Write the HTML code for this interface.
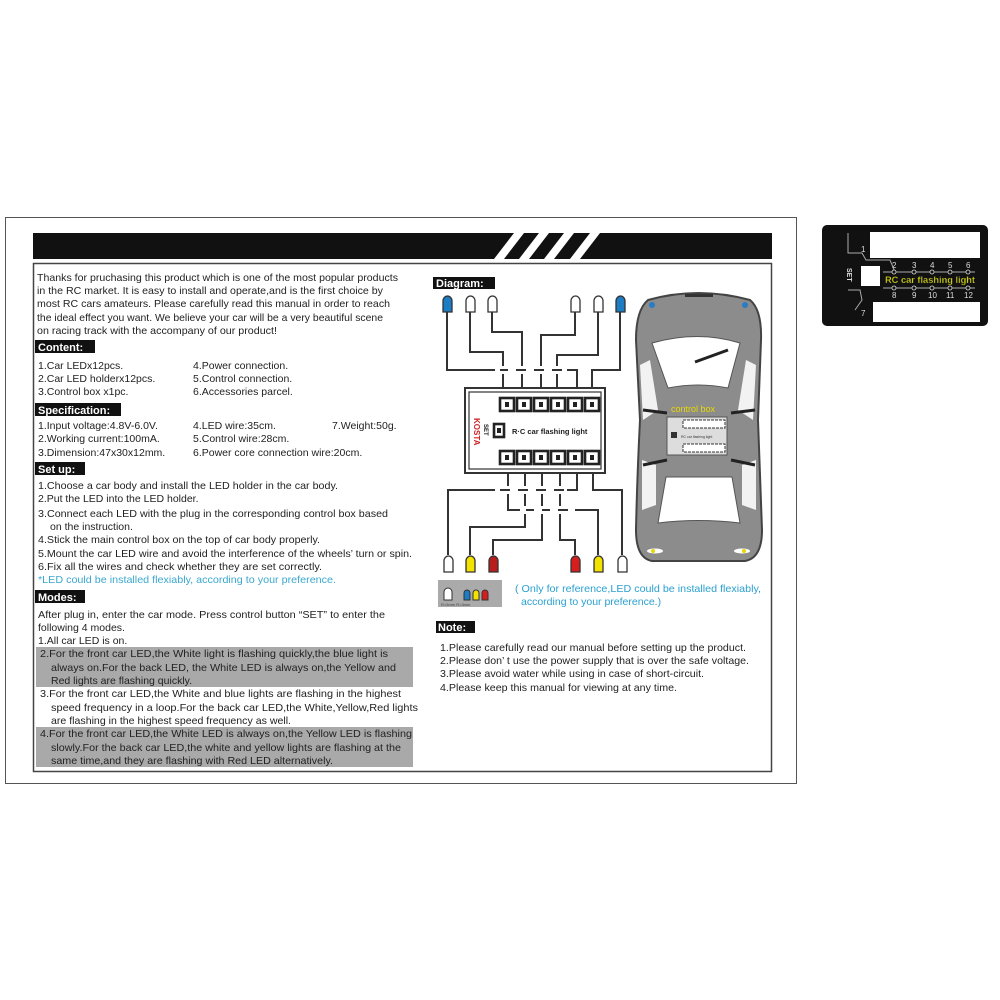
<!DOCTYPE html>
<html><head><meta charset="utf-8"><style>
html,body{margin:0;padding:0;background:#fff;}
svg{display:block;font-family:"Liberation Sans",Arial,sans-serif;}
.t{font-size:10.5px;fill:#222;}
.lb{font-size:11px;font-weight:bold;fill:#fff;}
.w{fill:none;stroke:#333;stroke-width:2;}
</style></head><body>
<svg width="1000" height="1000" viewBox="0 0 1000 1000">
<rect x="5.5" y="217.5" width="791" height="566" fill="none" stroke="#555" stroke-width="1"/>
<rect x="33" y="233" width="739" height="26" fill="#111"/>
<g fill="#fff">
<polygon points="514,233 524,233 504,259 494,259"/>
<polygon points="539,233 549,233 529,259 519,259"/>
<polygon points="564,233 574,233 554,259 544,259"/>
<polygon points="590,233 600,233 580,259 570,259"/>
</g>
<rect x="33.5" y="263.5" width="738" height="508" fill="none" stroke="#444" stroke-width="1.5"/>

<text class="t" x="37" y="281" textLength="361" lengthAdjust="spacingAndGlyphs">Thanks for pruchasing this product which is one of the most popular products</text>
<text class="t" x="37" y="294" textLength="346" lengthAdjust="spacingAndGlyphs">in the RC market.  It  is easy to install and operate,and is the first choice by</text>
<text class="t" x="37" y="307" textLength="353" lengthAdjust="spacingAndGlyphs">most RC cars amateurs. Please carefully read this manual in order to reach</text>
<text class="t" x="37" y="321" textLength="346" lengthAdjust="spacingAndGlyphs">the ideal effect you want. We believe your car will be a very beautiful scene</text>
<text class="t" x="37" y="334" textLength="240" lengthAdjust="spacingAndGlyphs">on racing track with the accompany of our product!</text>

<rect x="35" y="340" width="60" height="13" fill="#111"/>
<text class="lb" x="38" y="351">Content:</text>
<text class="t" x="38" y="369">1.Car LEDx12pcs.</text>
<text class="t" x="38" y="382">2.Car LED holderx12pcs.</text>
<text class="t" x="38" y="395">3.Control box x1pc.</text>
<text class="t" x="193" y="369">4.Power connection.</text>
<text class="t" x="193" y="382">5.Control connection.</text>
<text class="t" x="193" y="395">6.Accessories parcel.</text>

<rect x="35" y="403" width="86" height="13" fill="#111"/>
<text class="lb" x="38" y="414">Specification:</text>
<text class="t" x="38" y="429">1.Input voltage:4.8V-6.0V.</text>
<text class="t" x="38" y="442">2.Working current:100mA.</text>
<text class="t" x="38" y="456">3.Dimension:47x30x12mm.</text>
<text class="t" x="193" y="429">4.LED wire:35cm.</text>
<text class="t" x="193" y="442">5.Control wire:28cm.</text>
<text class="t" x="193" y="456">6.Power core connection wire:20cm.</text>
<text class="t" x="332" y="429">7.Weight:50g.</text>

<rect x="35" y="462" width="50" height="13" fill="#111"/>
<text class="lb" x="38" y="473">Set up:</text>
<text class="t" x="38" y="489" textLength="300" lengthAdjust="spacingAndGlyphs">1.Choose a car body and install the LED holder in the car body.</text>
<text class="t" x="38" y="502">2.Put the LED into the LED holder.</text>
<text class="t" x="38" y="517" textLength="350" lengthAdjust="spacingAndGlyphs">3.Connect each LED with the plug in the corresponding control box based</text>
<text class="t" x="50" y="530">on the instruction.</text>
<text class="t" x="38" y="543" textLength="282" lengthAdjust="spacingAndGlyphs">4.Stick the main control box on the top of car body properly.</text>
<text class="t" x="38" y="557" textLength="374" lengthAdjust="spacingAndGlyphs">5.Mount the car LED wire and avoid the interference of the wheels’  turn or spin.</text>
<text class="t" x="38" y="570" textLength="284" lengthAdjust="spacingAndGlyphs">6.Fix all the wires and check whether they are set correctly.</text>
<text class="t" x="38" y="583" textLength="298" lengthAdjust="spacingAndGlyphs" style="fill:#3aa8d0">*LED could be installed flexiably, according to your preference.</text>

<rect x="35" y="590" width="50" height="13" fill="#111"/>
<text class="lb" x="38" y="601">Modes:</text>
<text class="t" x="38" y="618" textLength="347" lengthAdjust="spacingAndGlyphs">After plug in, enter the car mode. Press control button “SET”  to enter the</text>
<text class="t" x="38" y="631">following 4 modes.</text>
<text class="t" x="38" y="644">1.All car LED is on.</text>
<rect x="36" y="647" width="377" height="40" fill="#a9a9a9"/>
<text class="t" x="40" y="657" textLength="348" lengthAdjust="spacingAndGlyphs">2.For the front car LED,the White light is flashing quickly,the blue light is</text>
<text class="t" x="51" y="671" textLength="345" lengthAdjust="spacingAndGlyphs">always on.For the back LED, the White LED is always on,the Yellow and</text>
<text class="t" x="51" y="684">Red lights are flashing quickly.</text>
<text class="t" x="40" y="697" textLength="361" lengthAdjust="spacingAndGlyphs">3.For the front car LED,the White and blue lights are flashing in the highest</text>
<text class="t" x="51" y="711" textLength="367" lengthAdjust="spacingAndGlyphs">speed frequency in a loop.For the back car LED,the White,Yellow,Red lights</text>
<text class="t" x="51" y="724" textLength="240" lengthAdjust="spacingAndGlyphs">are flashing in the highest speed frequency as well.</text>
<rect x="36" y="727" width="377" height="40" fill="#a9a9a9"/>
<text class="t" x="40" y="737" textLength="372" lengthAdjust="spacingAndGlyphs">4.For the front car LED,the White LED is always on,the Yellow LED is flashing</text>
<text class="t" x="51" y="751" textLength="350" lengthAdjust="spacingAndGlyphs">slowly.For the back car LED,the white and yellow lights are flashing at the</text>
<text class="t" x="51" y="764" textLength="282" lengthAdjust="spacingAndGlyphs">same time,and they are flashing with Red LED alternatively.</text>

<rect x="433" y="277" width="62" height="12" fill="#111"/>
<text class="lb" x="436" y="287">Diagram:</text>

<polyline class="w" points="447,312 447,370 577,370 577,397"/>
<polyline class="w" points="470,312 470,352 503,352 503,397"/>
<polyline class="w" points="492,312 492,332 522,332 522,397"/>
<polyline class="w" points="575,312 575,335 541,335 541,397"/>
<polyline class="w" points="598,312 598,355 557,355 557,397"/>
<polyline class="w" points="620,312 620,370 592,370 592,397"/>
<rect x="495" y="366" width="72" height="8" fill="#fff"/>
<g stroke="#333" stroke-width="2"><line x1="500" y1="370" x2="508" y2="370"/><line x1="516" y1="370" x2="526" y2="370"/><line x1="534" y1="370" x2="544" y2="370"/><line x1="552" y1="370" x2="562" y2="370"/></g>
<polyline class="w" points="448,555 448,490 577,490 577,465"/>
<polyline class="w" points="470,555 470,527 525,527 525,465"/>
<polyline class="w" points="493,555 493,540 542,540 542,465"/>
<polyline class="w" points="575,555 575,540 560,540 560,465"/>
<polyline class="w" points="598,555 598,510 508,510 508,465"/>
<polyline class="w" points="622,555 622,490 593,490 593,465"/>
<rect x="495" y="486" width="72" height="8" fill="#fff"/>
<rect x="520" y="506" width="55" height="8" fill="#fff"/>
<g stroke="#333" stroke-width="2"><line x1="500" y1="490" x2="510" y2="490"/><line x1="518" y1="490" x2="528" y2="490"/><line x1="536" y1="490" x2="546" y2="490"/><line x1="554" y1="490" x2="564" y2="490"/>
<line x1="526" y1="510" x2="534" y2="510"/><line x1="542" y1="510" x2="550" y2="510"/><line x1="558" y1="510" x2="568" y2="510"/></g>

<g stroke="#333" stroke-width="1.3">
<path d="M443,312 v-11 a4.5,5 0 0 1 9,0 v11 z" fill="#1c7cc4"/>
<path d="M466,312 v-11 a4.5,5 0 0 1 9,0 v11 z" fill="#fff"/>
<path d="M488,312 v-11 a4.5,5 0 0 1 9,0 v11 z" fill="#fff"/>
<path d="M571,312 v-11 a4.5,5 0 0 1 9,0 v11 z" fill="#fff"/>
<path d="M594,312 v-11 a4.5,5 0 0 1 9,0 v11 z" fill="#fff"/>
<path d="M616,312 v-11 a4.5,5 0 0 1 9,0 v11 z" fill="#1c7cc4"/>
<path d="M444,572 v-11 a4.5,5 0 0 1 9,0 v11 z" fill="#fff"/>
<path d="M466,572 v-11 a4.5,5 0 0 1 9,0 v11 z" fill="#f2e200"/>
<path d="M489,572 v-11 a4.5,5 0 0 1 9,0 v11 z" fill="#b81e1e"/>
<path d="M571,572 v-11 a4.5,5 0 0 1 9,0 v11 z" fill="#d61e1e"/>
<path d="M594,572 v-11 a4.5,5 0 0 1 9,0 v11 z" fill="#f2e200"/>
<path d="M618,572 v-11 a4.5,5 0 0 1 9,0 v11 z" fill="#fff"/>
</g>

<rect x="465" y="388" width="140" height="85" fill="#fff" stroke="#333" stroke-width="2"/>
<rect x="469" y="392" width="132" height="77" fill="none" stroke="#333" stroke-width="1.2"/>
<g fill="#fff" stroke="#222" stroke-width="2.6">
<rect x="500" y="398" width="14" height="13"/><rect x="517" y="398" width="14" height="13"/><rect x="534" y="398" width="14" height="13"/><rect x="551" y="398" width="14" height="13"/><rect x="568" y="398" width="14" height="13"/><rect x="585" y="398" width="14" height="13"/>
<rect x="500" y="451" width="14" height="13"/><rect x="517" y="451" width="14" height="13"/><rect x="534" y="451" width="14" height="13"/><rect x="551" y="451" width="14" height="13"/><rect x="568" y="451" width="14" height="13"/><rect x="585" y="451" width="14" height="13"/>
<rect x="494" y="424" width="10" height="13"/>
</g>
<g fill="#222">
<rect x="505" y="402" width="4" height="5"/><rect x="522" y="402" width="4" height="5"/><rect x="539" y="402" width="4" height="5"/><rect x="556" y="402" width="4" height="5"/><rect x="573" y="402" width="4" height="5"/><rect x="590" y="402" width="4" height="5"/>
<rect x="505" y="455" width="4" height="5"/><rect x="522" y="455" width="4" height="5"/><rect x="539" y="455" width="4" height="5"/><rect x="556" y="455" width="4" height="5"/><rect x="573" y="455" width="4" height="5"/><rect x="590" y="455" width="4" height="5"/>
<rect x="497" y="428" width="4" height="5"/>
</g>
<text x="512" y="434" style="font-size:7.5px;font-weight:bold;fill:#222">R·C car flashing light</text>
<text x="0" y="0" transform="translate(474,418) rotate(90)" style="font-size:8px;font-weight:bold;fill:#c22">KOSTA</text>
<text x="0" y="0" transform="translate(484,424) rotate(90)" style="font-size:6px;font-weight:bold;fill:#222">SET</text>

<path d="M648,300 Q698,286 750,300 Q762,310 761,340 L758,420 Q760,480 762,530 Q762,558 745,561 L652,561 Q636,558 636,530 Q637,480 640,420 L636,340 Q636,310 648,300 Z" fill="#8c8c8c" stroke="#444" stroke-width="2"/>
<path d="M652,343 Q698,330 740,343 L728,388 Q698,382 668,388 Z" fill="#fff" stroke="#555"/>
<path d="M640,365 L650,360 L658,410 L643,420 Z" fill="#f2f2f2"/>
<path d="M756,365 L746,360 L738,410 L753,420 Z" fill="#f2f2f2"/>
<path d="M642,460 L656,465 L656,505 L642,510 Z" fill="#f2f2f2"/>
<path d="M756,460 L742,465 L742,505 L756,510 Z" fill="#f2f2f2"/>
<path d="M666,477 L732,477 L740,523 Q698,518 658,523 Z" fill="#fff" stroke="#555"/>
<g stroke="#222" stroke-width="3"><line x1="643" y1="410" x2="667" y2="413"/><line x1="731" y1="413" x2="755" y2="410"/><line x1="643" y1="465" x2="667" y2="460"/><line x1="731" y1="460" x2="755" y2="465"/><line x1="695" y1="362" x2="728" y2="350"/></g>
<rect x="685" y="294" width="28" height="3" fill="#333"/>
<circle cx="652" cy="305" r="3" fill="#2a7cc4"/><circle cx="745" cy="305" r="3" fill="#2a7cc4"/>
<ellipse cx="655" cy="551" rx="8" ry="2.5" fill="#fff"/><ellipse cx="742" cy="551" rx="8" ry="2.5" fill="#fff"/>
<circle cx="653" cy="551" r="2" fill="#e6d800"/><circle cx="744" cy="551" r="2" fill="#e6d800"/>
<text x="671" y="412" style="font-size:9px;fill:#e8d800">control box</text>
<rect x="667" y="417" width="60" height="38" fill="#ddd" stroke="#555"/>
<rect x="683" y="420" width="42" height="8" fill="#fff" stroke="#333" stroke-dasharray="3,1"/>
<rect x="683" y="444" width="42" height="8" fill="#fff" stroke="#333" stroke-dasharray="3,1"/>
<rect x="671" y="432" width="6" height="6" fill="#333"/>
<text x="681" y="438" style="font-size:3.5px;fill:#333">RC car flashing light</text>

<rect x="438" y="580" width="64" height="27" fill="#aaa"/>
<g stroke="#333" stroke-width="1">
<path d="M444,600 v-8 a4,4 0 0 1 8,0 v8 z" fill="#fff"/>
<path d="M464,600 v-7 a3,3 0 0 1 6,0 v7 z" fill="#1c7cc4"/>
<path d="M473,600 v-7 a3,3 0 0 1 6,0 v7 z" fill="#f2e200"/>
<path d="M482,600 v-7 a3,3 0 0 1 6,0 v7 z" fill="#d61e1e"/>
</g>
<text x="441" y="606" style="font-size:4px;fill:#444">R=5mm    R=3mm</text>
<text x="515" y="592" style="font-size:10.5px;fill:#2aa0d0" textLength="246" lengthAdjust="spacingAndGlyphs">( Only for reference,LED could be installed flexiably,</text>
<text x="521" y="605" style="font-size:10.5px;fill:#2aa0d0">according to your preference.)</text>

<rect x="436" y="621" width="39" height="12" fill="#111"/>
<text class="lb" x="438" y="631">Note:</text>
<text class="t" x="440" y="651" textLength="306" lengthAdjust="spacingAndGlyphs">1.Please carefully read our manual before setting up the product.</text>
<text class="t" x="440" y="664" textLength="309" lengthAdjust="spacingAndGlyphs">2.Please don’  t use the power supply that is over the safe voltage.</text>
<text class="t" x="440" y="677" textLength="264" lengthAdjust="spacingAndGlyphs">3.Please avoid water while using in case of short-circuit.</text>
<text class="t" x="440" y="691" textLength="237" lengthAdjust="spacingAndGlyphs">4.Please keep this manual for viewing at any time.</text>

<rect x="822" y="225" width="166" height="101" rx="5" fill="#111"/>
<rect x="870" y="232" width="110" height="26" fill="#fff"/>
<rect x="873" y="302" width="107" height="20" fill="#fff"/>
<rect x="861" y="266" width="19" height="20" fill="#fff"/>
<path d="M848,233 V253 L862,253 L866,260 L890,260 L895,272" fill="none" stroke="#aaa" stroke-width="1"/>
<path d="M848,290 L860,290 L862,300 L855,310" fill="none" stroke="#aaa" stroke-width="1"/>
<line x1="883" y1="272" x2="975" y2="272" stroke="#aaa"/>
<line x1="883" y1="288" x2="975" y2="288" stroke="#aaa"/>
<g fill="#111" stroke="#ddd" stroke-width="0.8"><circle cx="894" cy="272" r="2"/><circle cx="914" cy="272" r="2"/><circle cx="932" cy="272" r="2"/><circle cx="950" cy="272" r="2"/><circle cx="968" cy="272" r="2"/><circle cx="894" cy="288" r="2"/><circle cx="914" cy="288" r="2"/><circle cx="932" cy="288" r="2"/><circle cx="950" cy="288" r="2"/><circle cx="968" cy="288" r="2"/></g>
<g style="font-size:8px;fill:#ddd"><text x="892" y="268">2</text><text x="912" y="268">3</text><text x="930" y="268">4</text><text x="948" y="268">5</text><text x="966" y="268">6</text><text x="892" y="298">8</text><text x="912" y="298">9</text><text x="928" y="298">10</text><text x="946" y="298">11</text><text x="964" y="298">12</text><text x="861" y="252">1</text><text x="861" y="316">7</text></g>
<text x="885" y="283" style="font-size:9px;fill:#d8d800;font-weight:bold;stroke:#333;stroke-width:0.3" textLength="90" lengthAdjust="spacingAndGlyphs">RC car flashing light</text>
<text x="0" y="0" transform="translate(847,268) rotate(90)" style="font-size:7px;fill:#ddd;font-weight:bold">SET</text>
</svg>
</body></html>
